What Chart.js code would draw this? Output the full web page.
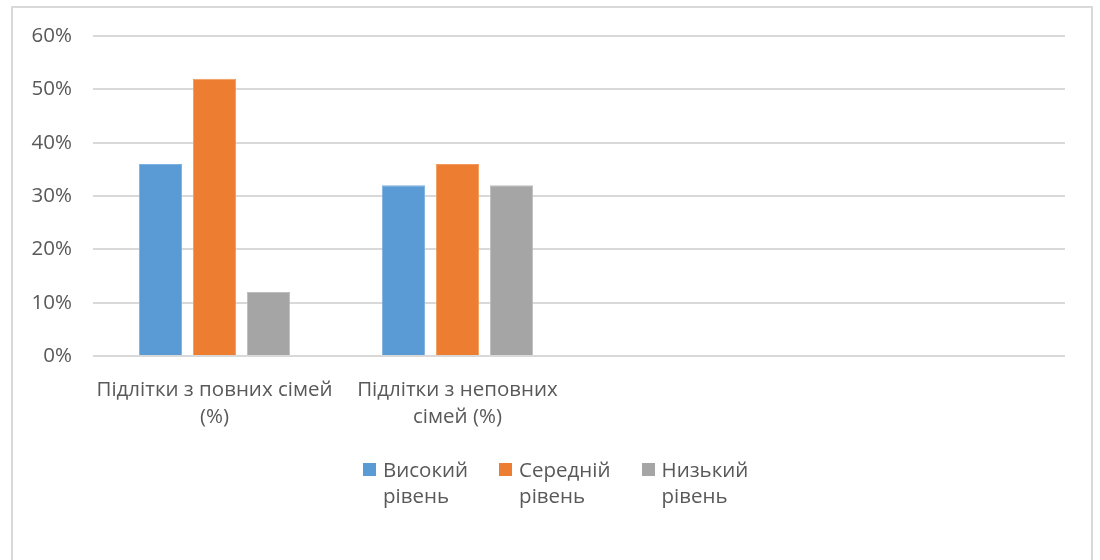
<!DOCTYPE html>
<html>
<head>
<meta charset="utf-8">
<script src="https://cdn.jsdelivr.net/npm/chart.js@4.4.0/dist/chart.umd.min.js"></script>
<style>
  html, body { margin:0; padding:0; background:#fff; overflow:hidden; }
  body { width:1100px; height:560px; position:relative; font-family:'Open Sans', sans-serif; }
  .frame { position:absolute; left:11px; top:6px; width:1082px; height:600px; border:2px solid #d9d9d9; box-sizing:border-box; }
  #wrap { position:absolute; left:0; top:0; width:1100px; height:560px; }
  .legend { position:absolute; left:363px; top:456px; display:flex; gap:31px; color:#595959; font-size:20.5px; line-height:26px; }
  .legend-item { display:flex; align-items:flex-start; }
  .legend-box { width:13px; height:13px; margin-top:7px; margin-right:7px; flex:none; }
</style>
</head>
<body>
<div class="frame"></div>
<div id="wrap"><canvas id="chart"></canvas></div>
<div class="legend" id="legend"></div>
<script>
  // categories (the last two are empty, as in the original sheet)
  const categories = [
    ['Підлітки з повних сімей', '(%)'],
    ['Підлітки з неповних', 'сімей (%)'],
    '',
    ''
  ];
  const seriesNames = [['Високий', 'рівень'], ['Середній', 'рівень'], ['Низький', 'рівень']];
  const highLevel = [36, 32, null, null];
  const midLevel = [52, 36, null, null];
  const lowLevel = [12, 32, null, null];
  const yTicks = [0, 10, 20, 30, 40, 50, 60];

  const colors = ['#5b9bd5', '#ed7d31', '#a5a5a5'];
  const borders = ['#7eb0de', '#f29a5c', '#bdbdbd'];
  const values = [highLevel, midLevel, lowLevel];

  const datasets = values.map((v, i) => ({
    label: seriesNames[i].join(' '),
    data: v,
    backgroundColor: colors[i],
    borderColor: borders[i],
    borderWidth: 1,
    categoryPercentage: 0.667,
    barPercentage: 0.8
  }));

  new Chart(document.getElementById('chart'), {
    type: 'bar',
    data: { labels: categories, datasets },
    options: {
      responsive: true,
      maintainAspectRatio: false,
      animation: false,
      layout: { padding: { left: 20, top: 36, right: 35, bottom: 0 } },
      plugins: { legend: { display: false }, tooltip: { enabled: false } },
      scales: {
        x: {
          grid: { display: false },
          border: { display: false },
          ticks: {
            color: '#595959',
            autoSkip: false,
            maxRotation: 0,
            minRotation: 0,
            padding: 13,
            font: { family: 'Open Sans', size: 20.5, lineHeight: 1.3 }
          },
          afterFit(scale) { scale.height = 204; }
        },
        y: {
          min: 0,
          max: 60,
          afterBuildTicks(scale) { scale.ticks = yTicks.map(v => ({ value: v })); },
          grid: { color: '#d9d9d9', lineWidth: 2, drawTicks: false },
          border: { display: false },
          ticks: {
            color: '#595959',
            padding: 21,
            font: { family: 'Open Sans', size: 20.5 },
            callback: v => v + '%'
          },
          afterFit(scale) { scale.width = 73; }
        }
      }
    }
  });

  const legend = document.getElementById('legend');
  legend.innerHTML = seriesNames.map((n, i) => `
    <div class="legend-item">
      <span class="legend-box" style="background:${colors[i]}"></span>
      <span>${n[0]}<br>${n[1]}</span>
    </div>`).join('');
</script>
</body>
</html>
